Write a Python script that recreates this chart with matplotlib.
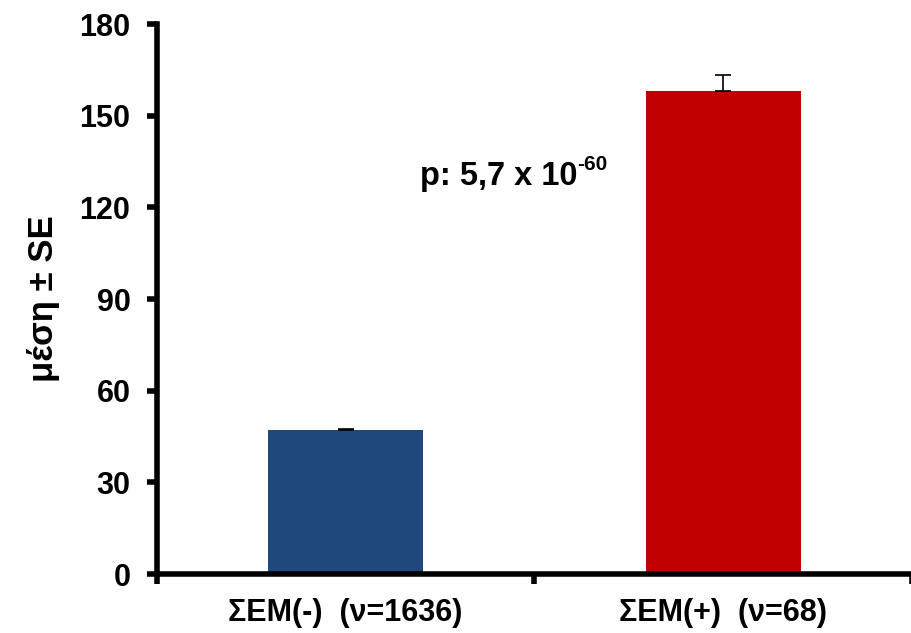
import matplotlib
matplotlib.use("Agg")
import matplotlib.pyplot as plt
import numpy as np

plt.rcParams['font.family'] = ['Liberation Sans', 'DejaVu Sans']
plt.rcParams['font.weight'] = 'bold'

# data
groups = ['ΣΕΜ(-)  (ν=1636)', 'ΣΕΜ(+)  (ν=68)']
means = [47.1, 158.0]
se = [0.4, 5.3]
colors = ['#1F497D', '#C00000']
p_text = 'p: 5,7 x 10'
p_exp = '-60'

fig = plt.figure(figsize=(9.12, 6.33), dpi=100)
ax = fig.add_axes([0.172, 0.093, 0.828, 0.869])

x = np.arange(len(groups))
ax.bar(x, means, width=0.41, color=colors, zorder=2)
ax.errorbar(x, means, yerr=[[0, 0], se], fmt='none', ecolor='black',
            elinewidth=1.2, capsize=5.5, capthick=1.2, zorder=3)

ax.set_xlim(-0.5, 1.487)
ax.set_ylim(0, 180)
ax.set_yticks(np.arange(0, 181, 30))

# boundary ticks on x, labels in between
ax.set_xticks([-0.5, 0.5, 1.5])
ax.set_xticklabels([])
ax.set_xticks(x, minor=True)
ax.set_xticklabels(groups, minor=True)
ax.tick_params(axis='x', which='minor', length=0, pad=17, labelsize=22)
ax.tick_params(axis='x', which='major', length=7, width=4, direction='out')
ax.tick_params(axis='y', length=7, width=4, direction='out', pad=12, labelsize=22)

for s in ['top', 'right']:
    ax.spines[s].set_visible(False)
for s in ['left', 'bottom']:
    ax.spines[s].set_linewidth(4)

ax.set_ylabel('μέση ± SE', fontsize=25, fontweight='bold', labelpad=14)

t = ax.text(0.197, 127.3, p_text, fontsize=23.5, fontweight='bold', va='baseline')
ax.annotate(p_exp, xy=(1.0, 0.6), xycoords=t, fontsize=15, fontweight='bold',
            va='bottom', ha='left')

fig.savefig('out.png', dpi=100)
